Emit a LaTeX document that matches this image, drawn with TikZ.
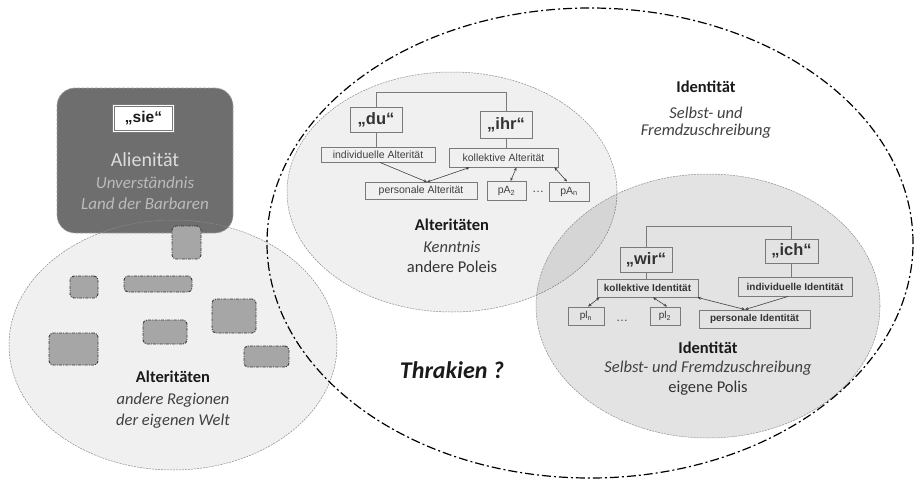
\documentclass[tikz,border=0pt]{standalone}
\usepackage{fontspec}
\setmainfont{Carlito}
\newfontfamily\boxfont{Liberation Sans}
\usetikzlibrary{arrows.meta}

\definecolor{inkdark}{HTML}{1A1A1A}
\definecolor{inkmid}{HTML}{333333}
\definecolor{inkgray}{HTML}{404040}
\definecolor{rimgray}{HTML}{8C8C8C}
\definecolor{boxline}{HTML}{7A7A7A}
\definecolor{lightfill}{HTML}{F0F0F0}
\definecolor{regionfill}{HTML}{A6A6A6}
\definecolor{regionline}{HTML}{3A3A3A}
\definecolor{siefill}{HTML}{6E6E6E}
\definecolor{sietext}{HTML}{DCDCDC}

\tikzset{
  rim/.style={draw=rimgray, line width=0.5pt, dash pattern=on 2pt off 1pt},
  outerrim/.style={draw=black, line width=1.2pt, dash pattern=on 9pt off 3pt on 2pt off 3pt},
  termbox/.style={draw=boxline, line width=0.9pt, inner sep=0pt, text=inkgray,
    font=\boxfont\fontsize{10.5}{12}\selectfont},
  idbox/.style={termbox, text=inkmid, font=\boxfont\bfseries\fontsize{10}{12}\selectfont},
  pronbox/.style={draw=boxline, line width=1pt, inner sep=0pt, text=inkmid,
    font=\boxfont\bfseries\fontsize{16.5}{18}\selectfont},
  region/.style={fill=regionfill, draw=regionline, line width=0.9pt,
    dash pattern=on 3pt off 1.2pt on 1pt off 1.2pt, rounded corners=4pt},
  link/.style={draw=boxline, line width=0.8pt},
  rel/.style={draw=inkgray, line width=0.6pt, {Stealth[length=3.5pt,width=3pt]}-{Stealth[length=3.5pt,width=3pt]}},
  relto/.style={draw=inkgray, line width=0.6pt, -{Stealth[length=3.5pt,width=3pt]}},
  headline/.style={font=\bfseries\fontsize{16.5}{18}\selectfont, text=inkdark, inner sep=0pt},
  subline/.style={font=\itshape\fontsize{16.5}{18}\selectfont, text=inkgray, inner sep=0pt},
  plainline/.style={font=\fontsize{16.5}{18}\selectfont, text=inkmid, inner sep=0pt},
}

\begin{document}
\begin{tikzpicture}[x=1pt,y=-1pt]
\useasboundingbox (0,0) rectangle (916,482);

% ---- left region: other regions of one's own world ----
\fill[lightfill] (173,345) ellipse [x radius=164pt, y radius=125pt];

% barbarian land box
\node[fill=siefill, draw=rimgray!80, line width=0.7pt, dash pattern=on 3pt off 1.5pt,
      rounded corners=18pt, minimum width=176pt, minimum height=145pt, inner sep=0pt]
      (land) at (145,160.5) {};
\draw[rim] (173,345) ellipse [x radius=164pt, y radius=125pt];

\node[fill=white, draw=boxline, line width=0.8pt, double=white, double distance=1.6pt,
      minimum width=60pt, minimum height=26pt, inner sep=0pt, text=inkdark,
      font=\boxfont\bfseries\fontsize{15.5}{17}\selectfont] (sie) at (143.5,118.5) {„sie“};
\node[font=\fontsize{20}{22}\selectfont, text=sietext, inner sep=0pt] (alien) at (145,160) {Alienität};
\node[font=\itshape\fontsize{17}{19}\selectfont, text=sietext!85!black, inner sep=0pt] (unv) at (145,183) {Unverständnis};
\node[font=\itshape\fontsize{17}{19}\selectfont, text=sietext!85!black, inner sep=0pt] (barb) at (145,204) {Land der Barbaren};

% scattered regions
\node[region, minimum width=29pt, minimum height=33pt] (r1) at (186.5,242.5) {};
\node[region, minimum width=28pt, minimum height=22pt] (r2) at (84,287) {};
\node[region, minimum width=68pt, minimum height=16pt] (r3) at (158,284) {};
\node[region, minimum width=44pt, minimum height=34pt] (r4) at (234,316) {};
\node[region, minimum width=44pt, minimum height=24pt] (r5) at (165,332) {};
\node[region, minimum width=49pt, minimum height=32pt] (r6) at (73.5,349) {};
\node[region, minimum width=45pt, minimum height=21pt] (r7) at (266.5,356.5) {};

\node[headline] (altL) at (173,377) {Alteritäten};
\node[subline] (regL) at (173,400) {andere Regionen};
\node[subline] (weltL) at (173,421) {der eigenen Welt};

% ---- alterity of other poleis ----
\fill[lightfill] (452,192) ellipse [x radius=165pt, y radius=120pt];
\draw[rim] (452,192) ellipse [x radius=165pt, y radius=120pt];

% ---- identity of one's own polis ----
\fill[black, fill opacity=0.11] (708,306) ellipse [x radius=172pt, y radius=132pt];
\draw[rim] (708,306) ellipse [x radius=172pt, y radius=132pt];

% ---- whole identity frame ----
\draw[outerrim] (590,243) ellipse [x radius=323pt, y radius=235pt];

% alterity tree
\node[pronbox, minimum width=52pt, minimum height=25pt] (du) at (376,119.5) {„du“};
\node[pronbox, minimum width=52pt, minimum height=27pt] (ihr) at (506,124.5) {„ihr“};
\node[termbox, minimum width=114pt, minimum height=15pt] (ia) at (378,154.5) {individuelle Alterität};
\node[termbox, minimum width=109pt, minimum height=19pt] (ka) at (503.5,157.5) {kollektive Alterität};
\node[termbox, minimum width=112pt, minimum height=17pt] (pa) at (421,191) {personale Alterität};
\node[termbox, minimum width=39pt, minimum height=19pt] (pa2) at (506.5,191) {pA\textsubscript{2}};
\node[termbox, minimum width=40pt, minimum height=19pt] (pan) at (569,191.5) {pA\textsubscript{n}};
\node[text=inkgray, font=\boxfont\fontsize{12}{14}\selectfont, inner sep=0pt] (dotsA) at (538,192) {…};

\draw[link] (du.north) -- ++(0,-14) -| (ihr.north);
\draw[link] (du.south) -- (du.south |- ia.north);
\draw[link] (ihr.south) -- (ihr.south |- ka.north);
\draw[relto] ([xshift=2pt]ia.south) -- ([xshift=6pt]pa.north);
\draw[rel] ([xshift=6pt]pa.north) -- ([xshift=21pt]ka.south west);
\draw[rel] ([xshift=4pt]pa2.north) -- ([xshift=13pt]ka.south);
\draw[rel] ([xshift=-2pt]pan.north) -- ([xshift=-4pt]ka.south east);

\node[headline] (altA) at (452,225) {Alteritäten};
\node[subline] (kenA) at (452,247) {Kenntnis};
\node[plainline] (polA) at (452,267) {andere Poleis};

% identity tree
\node[pronbox, minimum width=52pt, minimum height=25pt] (wir) at (646,259.5) {„wir“};
\node[pronbox, minimum width=53pt, minimum height=24pt] (ich) at (791.5,251) {„ich“};
\node[idbox, minimum width=101pt, minimum height=18pt] (ki) at (647.5,288) {kollektive Identität};
\node[idbox, minimum width=114pt, minimum height=19pt] (ii) at (795,286.5) {individuelle Identität};
\node[idbox, minimum width=36pt, minimum height=18pt, font=\boxfont\fontsize{10}{12}\selectfont] (pln) at (586,316) {pl\textsubscript{n}};
\node[idbox, minimum width=30pt, minimum height=18pt, font=\boxfont\fontsize{10}{12}\selectfont] (pl2) at (665,316) {pl\textsubscript{2}};
\node[idbox, minimum width=111pt, minimum height=18pt] (pi) at (754.5,319) {personale Identität};
\node[text=inkgray, font=\boxfont\fontsize{12}{14}\selectfont, inner sep=0pt] (dotsI) at (622,321) {…};

\draw[link] (wir.north) -- ++(0,-20) -| (ich.north);
\draw[link] (wir.south) -- (wir.south |- ki.north);
\draw[link] (ich.south) -- (ich.south |- ii.north);
\draw[rel] ([xshift=3pt]ki.south west) -- ([xshift=2pt]pln.north);
\draw[rel] ([xshift=5.5pt]ki.south) -- ([xshift=2pt]pl2.north);
\draw[rel] ([xshift=-1pt]ki.south east) -- ([xshift=-9.5pt]pi.north);
\draw[relto] ([xshift=-7pt]ii.south) -- ([xshift=-9.5pt]pi.north);

\node[headline] (idI) at (708,348) {Identität};
\node[subline] (szI) at (708,368) {Selbst- und Fremdzuschreibung};
\node[plainline] (polI) at (708,388) {eigene Polis};

% frame captions
\node[headline] (idT) at (706,87) {Identität};
\node[subline] (szT1) at (706,113) {Selbst- und};
\node[subline] (szT2) at (706,131) {Fremdzuschreibung};

\node[font=\bfseries\itshape\fontsize{24}{26}\selectfont, text=inkdark, inner sep=0pt] (thr) at (452,370) {Thrakien ?};
\end{tikzpicture}
\end{document}
